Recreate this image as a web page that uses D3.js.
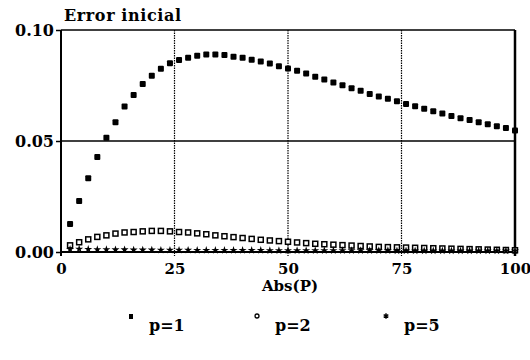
<!DOCTYPE html>
<html>
<head>
<meta charset="utf-8">
<script src="https://cdn.jsdelivr.net/npm/d3@7"></script>
<style>
  body { margin: 0; background: #fff; }
  text { font-family: "DejaVu Serif", serif; font-weight: bold; fill: #000; }
</style>
</head>
<body>
<div id="chart"></div>
<script>
// data
var absP = [2, 4, 6, 8, 10, 12, 14, 16, 18, 20, 22, 24, 26, 28, 30, 32, 34, 36, 38, 40,
    42, 44, 46, 48, 50, 52, 54, 56, 58, 60, 62, 64, 66, 68, 70, 72, 74, 76, 78, 80,
    82, 84, 86, 88, 90, 92, 94, 96, 98, 100];
var errP1 = [0.0126, 0.0230, 0.0332, 0.0428, 0.0515, 0.0584, 0.0655, 0.0707, 0.0757, 0.0794,
    0.0826, 0.0850, 0.0865, 0.0875, 0.0884, 0.0890, 0.0890, 0.0887, 0.0880, 0.0875,
    0.0866, 0.0858, 0.0849, 0.0837, 0.0827, 0.0816, 0.0804, 0.0789, 0.0777, 0.0764,
    0.0751, 0.0738, 0.0726, 0.0712, 0.0700, 0.0690, 0.0679, 0.0667, 0.0657, 0.0645,
    0.0634, 0.0624, 0.0613, 0.0603, 0.0595, 0.0585, 0.0576, 0.0567, 0.0558, 0.0547];
var errP2 = [0.0030, 0.0044, 0.0057, 0.0068, 0.0075, 0.0083, 0.0088, 0.0090, 0.0093, 0.0095,
    0.0095, 0.0093, 0.0090, 0.0088, 0.0084, 0.0080, 0.0075, 0.0071, 0.0067, 0.0063,
    0.0059, 0.0055, 0.0052, 0.0049, 0.0046, 0.0043, 0.0040, 0.0037, 0.0035, 0.0033,
    0.0031, 0.0029, 0.0027, 0.0025, 0.0023, 0.0022, 0.0021, 0.0020, 0.0019, 0.0018,
    0.0017, 0.0016, 0.0015, 0.0014, 0.0013, 0.0012, 0.0011, 0.0010, 0.0009, 0.0008];
var errP5 = [0.0008, 0.0009, 0.0008, 0.0007, 0.0007, 0.0006, 0.0006, 0.0005, 0.0005, 0.0005,
    0.0004, 0.0004, 0.0004, 0.0004, 0.0003, 0.0003, 0.0003, 0.0003, 0.0003, 0.0003,
    0.0003, 0.0003, 0.0002, 0.0002, 0.0002, 0.0002, 0.0002, 0.0002, 0.0002, 0.0002,
    0.0002, 0.0002, 0.0002, 0.0002, 0.0002, 0.0002, 0.0001, 0.0001, 0.0001, 0.0001,
    0.0001, 0.0001, 0.0001, 0.0001, 0.0001, 0.0001, 0.0001, 0.0001, 0.0001, 0.0001];
var xTicks = [0, 25, 50, 75, 100];
var yTicks = [0, 0.05, 0.10];
var seriesNames = ['p=1', 'p=2', 'p=5'];

var width = 530, height = 360;
var plotLeft = 61, plotRight = 515, plotTop = 30, plotBottom = 252;

var svg = d3.select('#chart').append('svg')
    .attr('width', width)
    .attr('height', height);

var x = d3.scaleLinear().domain([0, 100]).range([plotLeft, plotRight]);
var y = d3.scaleLinear().domain([0, 0.10]).range([plotBottom, plotTop]);

// vertical dotted grid
svg.append('g').selectAll('line')
    .data([25, 50, 75])
    .enter().append('line')
    .attr('x1', function(d) { return x(d); })
    .attr('x2', function(d) { return x(d); })
    .attr('y1', y(0.10))
    .attr('y2', y(0) + 4)
    .attr('stroke', '#000')
    .attr('stroke-width', 1.2)
    .attr('stroke-dasharray', '1.5,1');

// horizontal line at 0.05
svg.append('line')
    .attr('x1', plotLeft).attr('x2', plotRight)
    .attr('y1', y(0.05)).attr('y2', y(0.05))
    .attr('stroke', '#000').attr('stroke-width', 1.5);

// frame
svg.append('line').attr('x1', plotLeft).attr('x2', plotRight)
    .attr('y1', y(0.10)).attr('y2', y(0.10))
    .attr('stroke', '#000').attr('stroke-width', 1.5);
svg.append('line').attr('x1', plotLeft).attr('x2', plotRight)
    .attr('y1', y(0)).attr('y2', y(0))
    .attr('stroke', '#000').attr('stroke-width', 2);
svg.append('line').attr('x1', plotLeft).attr('x2', plotLeft)
    .attr('y1', y(0.10)).attr('y2', y(0) + 4)
    .attr('stroke', '#000').attr('stroke-width', 2);
svg.append('line').attr('x1', plotRight).attr('x2', plotRight)
    .attr('y1', y(0.10)).attr('y2', y(0) + 4)
    .attr('stroke', '#000').attr('stroke-width', 2.5);

// y axis ticks and labels
var yAxis = d3.axisLeft(y).tickValues(yTicks).tickSize(5)
    .tickFormat(d3.format('.2f'));
var gy = svg.append('g').attr('transform', 'translate(' + plotLeft + ',0)').call(yAxis);
gy.select('.domain').remove();
gy.selectAll('.tick line').attr('stroke', '#000').attr('stroke-width', 1.5);
gy.selectAll('.tick text').attr('x', -7).attr('dy', '0.35em')
    .style('font-size', '16px').style('font-family', '"DejaVu Serif", serif');

// x axis labels
var xAxis = d3.axisBottom(x).tickValues(xTicks).tickSize(0).tickPadding(11);
var gx = svg.append('g').attr('transform', 'translate(0,' + plotBottom + ')').call(xAxis);
gx.select('.domain').remove();
gx.selectAll('.tick text')
    .style('font-size', '15px').style('font-family', '"DejaVu Serif", serif');

svg.append('text')
    .attr('x', (plotLeft + plotRight) / 2 + 2)
    .attr('y', 291)
    .attr('text-anchor', 'middle')
    .style('font-size', '15px')
    .text('Abs(P)');

svg.append('text')
    .attr('x', 64)
    .attr('y', 21)
    .style('font-size', '16px')
    .style('letter-spacing', '0.6px')
    .text('Error inicial');

// markers
var squareSize = 6;
svg.append('g').selectAll('rect')
    .data(errP1)
    .enter().append('rect')
    .attr('x', function(d, i) { return x(absP[i]) - squareSize / 2; })
    .attr('y', function(d) { return y(d) - squareSize / 2; })
    .attr('width', squareSize)
    .attr('height', squareSize)
    .attr('rx', 1)
    .attr('fill', '#000');

svg.append('g').selectAll('rect')
    .data(errP2)
    .enter().append('rect')
    .attr('x', function(d, i) { return x(absP[i]) - 2.5; })
    .attr('y', function(d) { return y(d) - 2.5; })
    .attr('width', 5)
    .attr('height', 5)
    .attr('fill', '#fff')
    .attr('stroke', '#000')
    .attr('stroke-width', 1.5);

var star = d3.symbol().type(d3.symbolStar).size(20);
svg.append('g').selectAll('path')
    .data(errP5)
    .enter().append('path')
    .attr('transform', function(d, i) { return 'translate(' + x(absP[i]) + ',' + (y(d) - 1) + ')'; })
    .attr('d', star)
    .attr('fill', '#000');

// legend
var legendX = [131, 257, 386];
var legend = svg.append('g');
legend.append('rect').attr('x', legendX[0] - 2).attr('y', 314).attr('width', 4).attr('height', 5).attr('fill', '#000');
legend.append('circle').attr('cx', legendX[1]).attr('cy', 316).attr('r', 2).attr('fill', 'none').attr('stroke', '#000').attr('stroke-width', 1.3);
legend.append('path').attr('transform', 'translate(' + legendX[2] + ',316)').attr('d', d3.symbol().type(d3.symbolAsterisk).size(20)).attr('stroke', '#000').attr('stroke-width', 1.4);
legend.selectAll('text')
    .data(seriesNames)
    .enter().append('text')
    .attr('x', function(d, i) { return legendX[i] + 18; })
    .attr('y', 331)
    .style('font-size', '16px')
    .text(function(d) { return d; });
</script>
</body>
</html>
